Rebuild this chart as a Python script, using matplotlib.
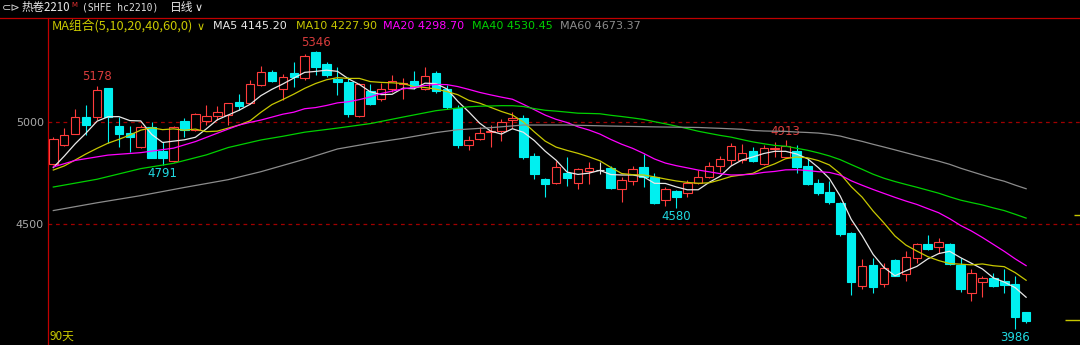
import matplotlib
matplotlib.use("Agg")
from matplotlib import pyplot as plt
from matplotlib.lines import Line2D
import numpy as np
import pandas as pd

# hc2210 daily bars, last 90 sessions
OPENS = [4793, 4886, 4943, 5026, 5026, 5165, 4982, 4945, 4876, 4974,
         4860, 4811, 5005, 4961, 5005, 5029, 5034, 5096, 5091, 5181,
         5246, 5160, 5238, 5217, 5340, 5282, 5209, 5197, 5029, 5153,
         5111, 5161, 5184, 5202, 5161, 5241, 5161, 5068, 4888, 4917,
         4952, 4958, 5010, 5018, 4834, 4721, 4700, 4749, 4700, 4762,
         4765, 4774, 4672, 4712, 4778, 4733, 4619, 4663, 4651, 4700,
         4733, 4787, 4814, 4814, 4858, 4793, 4868, 4831, 4858, 4785,
         4703, 4659, 4602, 4456, 4200, 4301, 4208, 4325, 4257, 4337,
         4402, 4387, 4402, 4301, 4166, 4220, 4239, 4224, 4208, 4070]
HIGHS = [4925, 4969, 5062, 5085, 5178, 5168, 5023, 4980, 4985, 5002,
         4904, 4980, 5018, 5046, 5083, 5080, 5095, 5135, 5205, 5274,
         5256, 5232, 5295, 5332, 5346, 5295, 5270, 5222, 5190, 5186,
         5189, 5230, 5213, 5251, 5267, 5251, 5181, 5083, 4932, 4975,
         4985, 5013, 5050, 5034, 4847, 4725, 4809, 4827, 4775, 4806,
         4806, 4786, 4730, 4786, 4844, 4749, 4681, 4667, 4717, 4765,
         4802, 4834, 4896, 4892, 4876, 4887, 4901, 4913, 4887, 4822,
         4720, 4712, 4610, 4460, 4329, 4337, 4309, 4330, 4371, 4408,
         4448, 4435, 4408, 4337, 4280, 4245, 4260, 4280, 4249, 4072]
LOWS = [4788, 4882, 4940, 4935, 5010, 4896, 4879, 4855, 4872, 4822,
        4791, 4805, 4928, 4958, 4985, 5010, 4985, 5059, 5088, 5176,
        5195, 5108, 5173, 5205, 5230, 5220, 5132, 5023, 5025, 5083,
        5101, 5148, 5112, 5161, 5158, 5140, 5065, 4871, 4863, 4910,
        4876, 4909, 4969, 4818, 4723, 4632, 4695, 4687, 4671, 4697,
        4746, 4672, 4611, 4692, 4684, 4600, 4591, 4580, 4632, 4695,
        4728, 4757, 4790, 4800, 4805, 4790, 4831, 4828, 4749, 4690,
        4645, 4600, 4445, 4154, 4182, 4163, 4192, 4245, 4224, 4312,
        4372, 4358, 4300, 4167, 4127, 4146, 4192, 4163, 3986, 4019]
CLOSES = [4915, 4936, 5026, 4985, 5156, 5023, 4941, 4928, 4977, 4826,
          4826, 4974, 4961, 5039, 5031, 5047, 5091, 5078, 5184, 5244,
          5200, 5222, 5222, 5324, 5267, 5230, 5194, 5039, 5186, 5088,
          5161, 5202, 5189, 5169, 5226, 5152, 5072, 4888, 4912, 4948,
          4958, 4998, 5018, 4827, 4746, 4697, 4778, 4728, 4769, 4777,
          4765, 4676, 4717, 4769, 4733, 4606, 4672, 4632, 4700, 4733,
          4787, 4819, 4883, 4847, 4809, 4871, 4872, 4883, 4782, 4695,
          4651, 4607, 4451, 4216, 4296, 4195, 4285, 4249, 4339, 4402,
          4378, 4415, 4306, 4184, 4264, 4239, 4198, 4203, 4048, 4029]

# MA values for bars where the window reaches back
# before the first visible bar
MA_LEAD = {
    5: {0: 4777, 1: 4833, 2: 4893, 3: 4946},
    10: {0: 4765, 1: 4785, 2: 4814, 3: 4844, 4: 4871, 5: 4896, 6: 4915,
         7: 4936, 8: 4960},
    20: {0: 4780, 2: 4812, 5: 4838, 8: 4850, 11: 4872, 13: 4904, 15: 4945,
         17: 4985, 18: 4998},
    40: {0: 4682, 4: 4720, 8: 4772, 11: 4798, 14: 4839, 16: 4875, 19: 4912,
         21: 4930, 23: 4950, 26: 4970, 29: 4992, 32: 5024, 35: 5055, 38: 5074},
    60: {0: 4567, 4: 4605, 8: 4640, 12: 4680, 16: 4718, 19: 4757, 23: 4818,
         26: 4868, 29: 4896, 32: 4920, 35: 4948, 37: 4962, 40: 4972, 43: 4985,
         47: 4985, 51: 4980, 55: 4976},
}
MA_LABELS = ["MA5 4145.20", "MA10 4227.90", "MA20 4298.70", "MA40 4530.45", "MA60 4673.37"]
MA_COLORS = {5: "#e8e8e8", 10: "#c8c800", 20: "#ff00ff", 40: "#00d000", 60: "#8c8c8c"}

# bars whose high / low gets a price tag
TAGS = [(4, "high"), (10, "low"), (24, "high"), (57, "low"), (67, "high"), (88, "low")]
Y_TICKS = [4500, 5000]
SIDE_MARKS = [4545, 4032]

RED = "#ff3c3c"
CYAN = "#00f0f0"
W, H = 1080, 345
CJK = ["Noto Sans CJK SC", "DejaVu Sans"]

fig = plt.figure(figsize=(W / 100, H / 100), dpi=100, facecolor="black")
ax = fig.add_axes([48 / W, 0, 1 - 48 / W, (H - 18) / H], facecolor="black")
ax.set_xlim(-0.485, 93.93)
ax.set_ylim(3910, 5508)

o = np.array(OPENS, dtype=float)
h = np.array(HIGHS, dtype=float)
l = np.array(LOWS, dtype=float)
c = np.array(CLOSES, dtype=float)
x = np.arange(len(c))
up, down, flat = c > o, c < o, c == o
bw = 0.78

ax.vlines(x[up], l[up], h[up], color=RED, lw=0.8, zorder=2)
ax.vlines(x[down], l[down], h[down], color=CYAN, lw=0.8, zorder=2)
ax.vlines(x[flat], l[flat], h[flat], color="#e0e0e0", lw=0.8, zorder=2)
ax.bar(x[up], (c - o)[up], bottom=o[up], width=bw, facecolor="black",
       edgecolor=RED, linewidth=0.8, zorder=3)
ax.bar(x[down], (o - c)[down], bottom=c[down], width=bw, facecolor=CYAN,
       edgecolor=CYAN, linewidth=0.8, zorder=3)
ax.hlines(o[flat], x[flat] - bw / 2, x[flat] + bw / 2, color="#e0e0e0", lw=0.8, zorder=3)

close_s = pd.Series(c)
for n, color in MA_COLORS.items():
    lead = MA_LEAD[n]
    rolled = close_s.rolling(n).mean()
    idx = list(lead.keys()) + list(range(n - 1, len(c)))
    vals = list(lead.values()) + list(rolled.iloc[n - 1:])
    ax.plot(idx, vals, color=color, lw=0.9, zorder=4)

for lvl in Y_TICKS:
    ax.axhline(lvl, color="#a00000", lw=0.9, ls=(0, (3, 3)), zorder=1)
ax.hlines(SIDE_MARKS, [93.4, 92.55], 93.93, color="#c8c800", lw=1.0)

for i, kind in TAGS:
    if kind == "high":
        ax.annotate(str(HIGHS[i]), (i, HIGHS[i]), xytext=(0, 6.3), textcoords="offset points",
                    ha="center", va="center", color="#d83c3c", fontsize=8.5)
    else:
        ax.annotate(str(LOWS[i]), (i, LOWS[i]), xytext=(0, -6), textcoords="offset points",
                    ha="center", va="center", color="#20d8e0", fontsize=8.5)

ax.set_xticks([])
ax.set_yticks(Y_TICKS)
ax.tick_params(axis="y", length=0, pad=3, labelcolor="#a8a8a8", labelsize=8)
for side in ["top", "right", "bottom"]:
    ax.spines[side].set_visible(False)
ax.spines["left"].set_color("#c00000")
ax.spines["left"].set_linewidth(0.9)

fig.add_artist(Line2D([0, 1], [1 - 18 / H, 1 - 18 / H], color="#c00000", lw=0.9))


def px_text(px, py, s, **kw):
    fig.text(px / W, 1 - py / H, s, ha="left", va="center", **kw)


px_text(2, 8, "⊂⊳", color="#d0d0d0", fontsize=8)
px_text(22, 8, "热卷2210", color="#e8e8e8", fontsize=8.3, family=CJK)
px_text(71, 5, "M", color="#e03030", fontsize=5)
px_text(82, 8, "(SHFE hc2210)", color="#e0e0e0", fontsize=7, family="DejaVu Sans Mono")
px_text(170, 8, "日线", color="#e8e8e8", fontsize=8.5, family=CJK)
px_text(195, 8, "∨", color="#e8e8e8", fontsize=8)

px_text(52, 26, "MA组合(5,10,20,40,60,0)", color="#c8c800", fontsize=9.2, family=CJK)
px_text(197, 27, "∨", color="#c8c800", fontsize=8)
for lx, label, color in zip([213, 296, 383, 472, 560], MA_LABELS, MA_COLORS.values()):
    px_text(lx, 26, label, color=color, fontsize=8)

px_text(50, 336, "90天", color="#c8c800", fontsize=8.5, family=CJK)

fig.savefig("out.png", dpi=100, facecolor="black")
